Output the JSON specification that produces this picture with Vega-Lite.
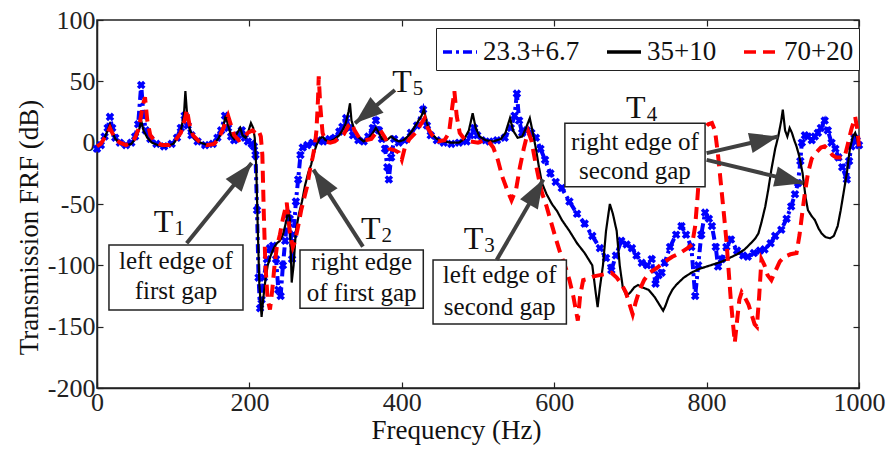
{
  "$schema": "https://vega.github.io/schema/vega-lite/v6.json",
  "width": 762,
  "height": 368,
  "autosize": {"type": "none"},
  "padding": {"left": 97, "top": 20, "right": 28, "bottom": 62},
  "background": "white",
  "config": {
    "view": {"stroke": "#222", "strokeWidth": 1.5},
    "font": "Liberation Serif, Times New Roman, serif",
    "axis": {
      "labelFont": "Liberation Serif, Times New Roman, serif", "titleFont": "Liberation Serif, Times New Roman, serif",
      "labelFontSize": 26, "titleFontSize": 27, "titleFontWeight": "normal",
      "labelColor": "#222", "titleColor": "#111", "tickColor": "#222", "domainColor": "#222",
      "domainWidth": 1.5, "tickWidth": 1.2, "grid": false, "tickSize": -6, "labelPadding": 6, "labelFlush": false
    },
    "legend": {
      "orient": "none", "legendX": 339, "legendY": 8, "direction": "horizontal",
      "strokeColor": "#222", "fillColor": "white", "padding": 5,
      "labelFont": "Liberation Serif, Times New Roman, serif", "labelFontSize": 27, "labelColor": "#111",
      "symbolType": "stroke", "symbolSize": 1156, "symbolStrokeWidth": 3.5,
      "columnPadding": 20, "labelOffset": 4
    }
  },
  "datasets": {
    "curves": [
      {"s":"23.3+6.7","f":0,"v":-5},{"s":"23.3+6.7","f":5,"v":-2},{"s":"23.3+6.7","f":10,"v":5},{"s":"23.3+6.7","f":14,"v":12},{"s":"23.3+6.7","f":17,"v":21},{"s":"23.3+6.7","f":20,"v":12},{"s":"23.3+6.7","f":24,"v":4},{"s":"23.3+6.7","f":30,"v":0},{"s":"23.3+6.7","f":38,"v":-2},{"s":"23.3+6.7","f":45,"v":0},{"s":"23.3+6.7","f":50,"v":5},{"s":"23.3+6.7","f":54,"v":15},{"s":"23.3+6.7","f":58,"v":47},{"s":"23.3+6.7","f":61,"v":22},{"s":"23.3+6.7","f":64,"v":10},{"s":"23.3+6.7","f":70,"v":3},{"s":"23.3+6.7","f":78,"v":-1},{"s":"23.3+6.7","f":88,"v":-3},{"s":"23.3+6.7","f":98,"v":-1},{"s":"23.3+6.7","f":105,"v":4},{"s":"23.3+6.7","f":110,"v":12},{"s":"23.3+6.7","f":115,"v":22},{"s":"23.3+6.7","f":119,"v":14},{"s":"23.3+6.7","f":124,"v":6},{"s":"23.3+6.7","f":132,"v":1},{"s":"23.3+6.7","f":142,"v":-2},{"s":"23.3+6.7","f":152,"v":-1},{"s":"23.3+6.7","f":158,"v":4},{"s":"23.3+6.7","f":163,"v":10},{"s":"23.3+6.7","f":168,"v":22},{"s":"23.3+6.7","f":172,"v":12},{"s":"23.3+6.7","f":176,"v":5},{"s":"23.3+6.7","f":180,"v":2},{"s":"23.3+6.7","f":185,"v":6},{"s":"23.3+6.7","f":190,"v":10},{"s":"23.3+6.7","f":194,"v":4},{"s":"23.3+6.7","f":198,"v":1},{"s":"23.3+6.7","f":203,"v":-1},{"s":"23.3+6.7","f":206,"v":-3},{"s":"23.3+6.7","f":208,"v":-10},{"s":"23.3+6.7","f":210,"v":-55},{"s":"23.3+6.7","f":212,"v":-110},{"s":"23.3+6.7","f":214,"v":-135},{"s":"23.3+6.7","f":216,"v":-128},{"s":"23.3+6.7","f":219,"v":-110},{"s":"23.3+6.7","f":223,"v":-95},{"s":"23.3+6.7","f":227,"v":-86},{"s":"23.3+6.7","f":231,"v":-84},{"s":"23.3+6.7","f":235,"v":-95},{"s":"23.3+6.7","f":238,"v":-120},{"s":"23.3+6.7","f":241,"v":-125},{"s":"23.3+6.7","f":244,"v":-100},{"s":"23.3+6.7","f":247,"v":-80},{"s":"23.3+6.7","f":250,"v":-58},{"s":"23.3+6.7","f":253,"v":-62},{"s":"23.3+6.7","f":256,"v":-95},{"s":"23.3+6.7","f":258,"v":-75},{"s":"23.3+6.7","f":261,"v":-48},{"s":"23.3+6.7","f":264,"v":-30},{"s":"23.3+6.7","f":267,"v":-10},{"s":"23.3+6.7","f":270,"v":-4},{"s":"23.3+6.7","f":276,"v":-2},{"s":"23.3+6.7","f":283,"v":0},{"s":"23.3+6.7","f":290,"v":2},{"s":"23.3+6.7","f":297,"v":1},{"s":"23.3+6.7","f":305,"v":3},{"s":"23.3+6.7","f":312,"v":4},{"s":"23.3+6.7","f":318,"v":9},{"s":"23.3+6.7","f":322,"v":13},{"s":"23.3+6.7","f":327,"v":20},{"s":"23.3+6.7","f":331,"v":12},{"s":"23.3+6.7","f":336,"v":6},{"s":"23.3+6.7","f":343,"v":2},{"s":"23.3+6.7","f":350,"v":1},{"s":"23.3+6.7","f":356,"v":5},{"s":"23.3+6.7","f":362,"v":12},{"s":"23.3+6.7","f":366,"v":18},{"s":"23.3+6.7","f":370,"v":10},{"s":"23.3+6.7","f":374,"v":3},{"s":"23.3+6.7","f":378,"v":-5},{"s":"23.3+6.7","f":381,"v":-20},{"s":"23.3+6.7","f":383,"v":-30},{"s":"23.3+6.7","f":386,"v":-12},{"s":"23.3+6.7","f":390,"v":3},{"s":"23.3+6.7","f":396,"v":0},{"s":"23.3+6.7","f":404,"v":2},{"s":"23.3+6.7","f":412,"v":8},{"s":"23.3+6.7","f":420,"v":14},{"s":"23.3+6.7","f":428,"v":27},{"s":"23.3+6.7","f":433,"v":14},{"s":"23.3+6.7","f":438,"v":6},{"s":"23.3+6.7","f":446,"v":2},{"s":"23.3+6.7","f":455,"v":0},{"s":"23.3+6.7","f":465,"v":-1},{"s":"23.3+6.7","f":475,"v":0},{"s":"23.3+6.7","f":485,"v":1},{"s":"23.3+6.7","f":490,"v":6},{"s":"23.3+6.7","f":495,"v":12},{"s":"23.3+6.7","f":499,"v":6},{"s":"23.3+6.7","f":505,"v":2},{"s":"23.3+6.7","f":515,"v":1},{"s":"23.3+6.7","f":525,"v":2},{"s":"23.3+6.7","f":535,"v":4},{"s":"23.3+6.7","f":543,"v":12},{"s":"23.3+6.7","f":548,"v":22},{"s":"23.3+6.7","f":551,"v":40},{"s":"23.3+6.7","f":554,"v":18},{"s":"23.3+6.7","f":558,"v":8},{"s":"23.3+6.7","f":564,"v":10},{"s":"23.3+6.7","f":570,"v":8},{"s":"23.3+6.7","f":576,"v":4},{"s":"23.3+6.7","f":582,"v":-5},{"s":"23.3+6.7","f":588,"v":-14},{"s":"23.3+6.7","f":595,"v":-25},{"s":"23.3+6.7","f":602,"v":-32},{"s":"23.3+6.7","f":610,"v":-37},{"s":"23.3+6.7","f":620,"v":-48},{"s":"23.3+6.7","f":630,"v":-58},{"s":"23.3+6.7","f":640,"v":-66},{"s":"23.3+6.7","f":650,"v":-76},{"s":"23.3+6.7","f":660,"v":-86},{"s":"23.3+6.7","f":668,"v":-94},{"s":"23.3+6.7","f":675,"v":-104},{"s":"23.3+6.7","f":681,"v":-92},{"s":"23.3+6.7","f":688,"v":-80},{"s":"23.3+6.7","f":695,"v":-83},{"s":"23.3+6.7","f":702,"v":-86},{"s":"23.3+6.7","f":708,"v":-92},{"s":"23.3+6.7","f":715,"v":-98},{"s":"23.3+6.7","f":722,"v":-100},{"s":"23.3+6.7","f":728,"v":-95},{"s":"23.3+6.7","f":733,"v":-115},{"s":"23.3+6.7","f":737,"v":-108},{"s":"23.3+6.7","f":741,"v":-106},{"s":"23.3+6.7","f":745,"v":-98},{"s":"23.3+6.7","f":752,"v":-85},{"s":"23.3+6.7","f":760,"v":-75},{"s":"23.3+6.7","f":767,"v":-68},{"s":"23.3+6.7","f":773,"v":-75},{"s":"23.3+6.7","f":780,"v":-85},{"s":"23.3+6.7","f":785,"v":-125},{"s":"23.3+6.7","f":789,"v":-100},{"s":"23.3+6.7","f":793,"v":-75},{"s":"23.3+6.7","f":798,"v":-57},{"s":"23.3+6.7","f":803,"v":-62},{"s":"23.3+6.7","f":807,"v":-68},{"s":"23.3+6.7","f":812,"v":-85},{"s":"23.3+6.7","f":815,"v":-101},{"s":"23.3+6.7","f":820,"v":-95},{"s":"23.3+6.7","f":826,"v":-85},{"s":"23.3+6.7","f":832,"v":-79},{"s":"23.3+6.7","f":840,"v":-88},{"s":"23.3+6.7","f":848,"v":-92},{"s":"23.3+6.7","f":854,"v":-93},{"s":"23.3+6.7","f":862,"v":-90},{"s":"23.3+6.7","f":870,"v":-88},{"s":"23.3+6.7","f":876,"v":-87},{"s":"23.3+6.7","f":884,"v":-82},{"s":"23.3+6.7","f":890,"v":-76},{"s":"23.3+6.7","f":898,"v":-71},{"s":"23.3+6.7","f":905,"v":-62},{"s":"23.3+6.7","f":911,"v":-52},{"s":"23.3+6.7","f":916,"v":-42},{"s":"23.3+6.7","f":920,"v":-33},{"s":"23.3+6.7","f":923,"v":-15},{"s":"23.3+6.7","f":925,"v":0},{"s":"23.3+6.7","f":929,"v":6},{"s":"23.3+6.7","f":933,"v":5},{"s":"23.3+6.7","f":938,"v":2},{"s":"23.3+6.7","f":942,"v":5},{"s":"23.3+6.7","f":946,"v":8},{"s":"23.3+6.7","f":950,"v":12},{"s":"23.3+6.7","f":955,"v":18},{"s":"23.3+6.7","f":959,"v":10},{"s":"23.3+6.7","f":964,"v":0},{"s":"23.3+6.7","f":969,"v":-5},{"s":"23.3+6.7","f":973,"v":-12},{"s":"23.3+6.7","f":978,"v":-20},{"s":"23.3+6.7","f":984,"v":-30},{"s":"23.3+6.7","f":987,"v":-15},{"s":"23.3+6.7","f":990,"v":-3},{"s":"23.3+6.7","f":994,"v":4},{"s":"23.3+6.7","f":997,"v":2},{"s":"23.3+6.7","f":1000,"v":-2},

      {"s":"35+10","f":0,"v":-3},{"s":"35+10","f":5,"v":-1},{"s":"35+10","f":10,"v":4},{"s":"35+10","f":14,"v":10},{"s":"35+10","f":17,"v":15},{"s":"35+10","f":20,"v":9},{"s":"35+10","f":24,"v":3},{"s":"35+10","f":30,"v":0},{"s":"35+10","f":38,"v":-2},{"s":"35+10","f":45,"v":-1},{"s":"35+10","f":50,"v":3},{"s":"35+10","f":55,"v":10},{"s":"35+10","f":58,"v":18},{"s":"35+10","f":61,"v":10},{"s":"35+10","f":66,"v":4},{"s":"35+10","f":72,"v":0},{"s":"35+10","f":80,"v":-2},{"s":"35+10","f":90,"v":-3},{"s":"35+10","f":100,"v":-1},{"s":"35+10","f":106,"v":4},{"s":"35+10","f":110,"v":10},{"s":"35+10","f":114,"v":22},{"s":"35+10","f":116,"v":42},{"s":"35+10","f":118,"v":25},{"s":"35+10","f":122,"v":10},{"s":"35+10","f":128,"v":3},{"s":"35+10","f":136,"v":0},{"s":"35+10","f":145,"v":-2},{"s":"35+10","f":155,"v":0},{"s":"35+10","f":160,"v":4},{"s":"35+10","f":165,"v":12},{"s":"35+10","f":169,"v":22},{"s":"35+10","f":172,"v":14},{"s":"35+10","f":176,"v":6},{"s":"35+10","f":180,"v":3},{"s":"35+10","f":184,"v":8},{"s":"35+10","f":188,"v":12},{"s":"35+10","f":191,"v":6},{"s":"35+10","f":195,"v":4},{"s":"35+10","f":199,"v":10},{"s":"35+10","f":202,"v":16},{"s":"35+10","f":205,"v":12},{"s":"35+10","f":207,"v":4},{"s":"35+10","f":209,"v":-20},{"s":"35+10","f":211,"v":-70},{"s":"35+10","f":213,"v":-115},{"s":"35+10","f":216,"v":-142},{"s":"35+10","f":218,"v":-128},{"s":"35+10","f":221,"v":-112},{"s":"35+10","f":224,"v":-100},{"s":"35+10","f":228,"v":-92},{"s":"35+10","f":232,"v":-86},{"s":"35+10","f":236,"v":-82},{"s":"35+10","f":240,"v":-80},{"s":"35+10","f":244,"v":-75},{"s":"35+10","f":248,"v":-65},{"s":"35+10","f":251,"v":-55},{"s":"35+10","f":253,"v":-62},{"s":"35+10","f":255.5,"v":-114},{"s":"35+10","f":258,"v":-100},{"s":"35+10","f":261,"v":-72},{"s":"35+10","f":265,"v":-58},{"s":"35+10","f":269,"v":-48},{"s":"35+10","f":273,"v":-35},{"s":"35+10","f":277,"v":-25},{"s":"35+10","f":281,"v":-18},{"s":"35+10","f":284,"v":-10},{"s":"35+10","f":288,"v":-2},{"s":"35+10","f":292,"v":3},{"s":"35+10","f":296,"v":5},{"s":"35+10","f":300,"v":2},{"s":"35+10","f":306,"v":1},{"s":"35+10","f":312,"v":3},{"s":"35+10","f":318,"v":6},{"s":"35+10","f":322,"v":10},{"s":"35+10","f":326,"v":15},{"s":"35+10","f":330,"v":25},{"s":"35+10","f":332,"v":32},{"s":"35+10","f":334,"v":18},{"s":"35+10","f":338,"v":10},{"s":"35+10","f":344,"v":4},{"s":"35+10","f":350,"v":1},{"s":"35+10","f":356,"v":3},{"s":"35+10","f":362,"v":8},{"s":"35+10","f":366,"v":12},{"s":"35+10","f":370,"v":8},{"s":"35+10","f":374,"v":3},{"s":"35+10","f":380,"v":2},{"s":"35+10","f":386,"v":5},{"s":"35+10","f":390,"v":3},{"s":"35+10","f":396,"v":1},{"s":"35+10","f":402,"v":2},{"s":"35+10","f":408,"v":5},{"s":"35+10","f":414,"v":10},{"s":"35+10","f":420,"v":16},{"s":"35+10","f":426,"v":22},{"s":"35+10","f":429,"v":27},{"s":"35+10","f":433,"v":16},{"s":"35+10","f":438,"v":8},{"s":"35+10","f":446,"v":3},{"s":"35+10","f":455,"v":1},{"s":"35+10","f":465,"v":0},{"s":"35+10","f":475,"v":0},{"s":"35+10","f":482,"v":3},{"s":"35+10","f":488,"v":10},{"s":"35+10","f":493,"v":24},{"s":"35+10","f":497,"v":12},{"s":"35+10","f":502,"v":5},{"s":"35+10","f":510,"v":2},{"s":"35+10","f":520,"v":1},{"s":"35+10","f":530,"v":3},{"s":"35+10","f":536,"v":8},{"s":"35+10","f":542,"v":20},{"s":"35+10","f":546,"v":10},{"s":"35+10","f":552,"v":4},{"s":"35+10","f":558,"v":5},{"s":"35+10","f":563,"v":12},{"s":"35+10","f":568,"v":20},{"s":"35+10","f":572,"v":8},{"s":"35+10","f":576,"v":-5},{"s":"35+10","f":580,"v":-20},{"s":"35+10","f":584,"v":-33},{"s":"35+10","f":590,"v":-42},{"s":"35+10","f":597,"v":-50},{"s":"35+10","f":604,"v":-56},{"s":"35+10","f":610,"v":-63},{"s":"35+10","f":620,"v":-72},{"s":"35+10","f":630,"v":-82},{"s":"35+10","f":640,"v":-90},{"s":"35+10","f":646,"v":-96},{"s":"35+10","f":650,"v":-100},{"s":"35+10","f":654,"v":-120},{"s":"35+10","f":657,"v":-134},{"s":"35+10","f":660,"v":-118},{"s":"35+10","f":664,"v":-100},{"s":"35+10","f":668,"v":-72},{"s":"35+10","f":673,"v":-50},{"s":"35+10","f":677,"v":-58},{"s":"35+10","f":682,"v":-72},{"s":"35+10","f":686,"v":-100},{"s":"35+10","f":690,"v":-118},{"s":"35+10","f":695,"v":-125},{"s":"35+10","f":700,"v":-122},{"s":"35+10","f":705,"v":-118},{"s":"35+10","f":710,"v":-116},{"s":"35+10","f":716,"v":-118},{"s":"35+10","f":724,"v":-120},{"s":"35+10","f":732,"v":-126},{"s":"35+10","f":738,"v":-132},{"s":"35+10","f":743,"v":-137},{"s":"35+10","f":746,"v":-133},{"s":"35+10","f":750,"v":-126},{"s":"35+10","f":755,"v":-120},{"s":"35+10","f":760,"v":-116},{"s":"35+10","f":770,"v":-110},{"s":"35+10","f":780,"v":-106},{"s":"35+10","f":790,"v":-103},{"s":"35+10","f":800,"v":-101},{"s":"35+10","f":810,"v":-99},{"s":"35+10","f":820,"v":-97},{"s":"35+10","f":830,"v":-94},{"s":"35+10","f":840,"v":-91},{"s":"35+10","f":850,"v":-87},{"s":"35+10","f":858,"v":-82},{"s":"35+10","f":864,"v":-78},{"s":"35+10","f":868,"v":-74},{"s":"35+10","f":872,"v":-65},{"s":"35+10","f":877,"v":-52},{"s":"35+10","f":881,"v":-38},{"s":"35+10","f":885,"v":-22},{"s":"35+10","f":890,"v":-5},{"s":"35+10","f":894,"v":5},{"s":"35+10","f":898,"v":18},{"s":"35+10","f":900,"v":27},{"s":"35+10","f":903,"v":10},{"s":"35+10","f":906,"v":5},{"s":"35+10","f":909,"v":12},{"s":"35+10","f":912,"v":8},{"s":"35+10","f":915,"v":2},{"s":"35+10","f":918,"v":-3},{"s":"35+10","f":922,"v":-12},{"s":"35+10","f":926,"v":-25},{"s":"35+10","f":930,"v":-45},{"s":"35+10","f":933,"v":-55},{"s":"35+10","f":938,"v":-60},{"s":"35+10","f":942,"v":-63},{"s":"35+10","f":947,"v":-70},{"s":"35+10","f":951,"v":-74},{"s":"35+10","f":956,"v":-77},{"s":"35+10","f":962,"v":-78},{"s":"35+10","f":967,"v":-76},{"s":"35+10","f":972,"v":-68},{"s":"35+10","f":976,"v":-55},{"s":"35+10","f":980,"v":-40},{"s":"35+10","f":984,"v":-25},{"s":"35+10","f":988,"v":-5},{"s":"35+10","f":992,"v":5},{"s":"35+10","f":995,"v":8},{"s":"35+10","f":998,"v":2},{"s":"35+10","f":1000,"v":-3},

      {"s":"70+20","f":0,"v":-3},{"s":"70+20","f":5,"v":-1},{"s":"70+20","f":10,"v":4},{"s":"70+20","f":14,"v":8},{"s":"70+20","f":17,"v":12},{"s":"70+20","f":20,"v":8},{"s":"70+20","f":24,"v":3},{"s":"70+20","f":30,"v":0},{"s":"70+20","f":38,"v":-2},{"s":"70+20","f":45,"v":0},{"s":"70+20","f":50,"v":4},{"s":"70+20","f":55,"v":12},{"s":"70+20","f":60,"v":30},{"s":"70+20","f":63,"v":37},{"s":"70+20","f":66,"v":18},{"s":"70+20","f":70,"v":6},{"s":"70+20","f":76,"v":1},{"s":"70+20","f":85,"v":-2},{"s":"70+20","f":95,"v":-2},{"s":"70+20","f":103,"v":2},{"s":"70+20","f":110,"v":8},{"s":"70+20","f":115,"v":18},{"s":"70+20","f":118,"v":27},{"s":"70+20","f":121,"v":16},{"s":"70+20","f":126,"v":6},{"s":"70+20","f":134,"v":1},{"s":"70+20","f":144,"v":-2},{"s":"70+20","f":154,"v":-1},{"s":"70+20","f":160,"v":4},{"s":"70+20","f":166,"v":12},{"s":"70+20","f":172,"v":22},{"s":"70+20","f":176,"v":14},{"s":"70+20","f":180,"v":6},{"s":"70+20","f":186,"v":2},{"s":"70+20","f":192,"v":4},{"s":"70+20","f":198,"v":8},{"s":"70+20","f":204,"v":10},{"s":"70+20","f":208,"v":8},{"s":"70+20","f":212,"v":10},{"s":"70+20","f":215,"v":5},{"s":"70+20","f":217,"v":-10},{"s":"70+20","f":219,"v":-60},{"s":"70+20","f":221,"v":-100},{"s":"70+20","f":224,"v":-128},{"s":"70+20","f":227,"v":-136},{"s":"70+20","f":230,"v":-120},{"s":"70+20","f":233,"v":-100},{"s":"70+20","f":236,"v":-85},{"s":"70+20","f":240,"v":-75},{"s":"70+20","f":244,"v":-62},{"s":"70+20","f":249,"v":-49},{"s":"70+20","f":253,"v":-73},{"s":"70+20","f":257,"v":-85},{"s":"70+20","f":260,"v":-80},{"s":"70+20","f":264,"v":-68},{"s":"70+20","f":268,"v":-55},{"s":"70+20","f":272,"v":-45},{"s":"70+20","f":276,"v":-35},{"s":"70+20","f":280,"v":-20},{"s":"70+20","f":283,"v":-12},{"s":"70+20","f":286,"v":-2},{"s":"70+20","f":288,"v":10},{"s":"70+20","f":290,"v":35},{"s":"70+20","f":291,"v":54},{"s":"70+20","f":293,"v":30},{"s":"70+20","f":296,"v":8},{"s":"70+20","f":300,"v":1},{"s":"70+20","f":306,"v":0},{"s":"70+20","f":312,"v":1},{"s":"70+20","f":318,"v":4},{"s":"70+20","f":324,"v":7},{"s":"70+20","f":330,"v":14},{"s":"70+20","f":334,"v":16},{"s":"70+20","f":338,"v":10},{"s":"70+20","f":344,"v":4},{"s":"70+20","f":352,"v":2},{"s":"70+20","f":360,"v":3},{"s":"70+20","f":366,"v":8},{"s":"70+20","f":372,"v":10},{"s":"70+20","f":378,"v":4},{"s":"70+20","f":384,"v":-5},{"s":"70+20","f":390,"v":-6},{"s":"70+20","f":396,"v":-8},{"s":"70+20","f":400,"v":-14},{"s":"70+20","f":404,"v":-4},{"s":"70+20","f":410,"v":3},{"s":"70+20","f":418,"v":8},{"s":"70+20","f":424,"v":14},{"s":"70+20","f":430,"v":20},{"s":"70+20","f":434,"v":12},{"s":"70+20","f":440,"v":6},{"s":"70+20","f":448,"v":1},{"s":"70+20","f":456,"v":2},{"s":"70+20","f":462,"v":8},{"s":"70+20","f":466,"v":28},{"s":"70+20","f":469,"v":42},{"s":"70+20","f":472,"v":22},{"s":"70+20","f":476,"v":8},{"s":"70+20","f":482,"v":3},{"s":"70+20","f":490,"v":1},{"s":"70+20","f":500,"v":0},{"s":"70+20","f":508,"v":2},{"s":"70+20","f":514,"v":1},{"s":"70+20","f":520,"v":-4},{"s":"70+20","f":526,"v":-14},{"s":"70+20","f":532,"v":-28},{"s":"70+20","f":538,"v":-38},{"s":"70+20","f":544,"v":-47},{"s":"70+20","f":550,"v":-38},{"s":"70+20","f":555,"v":-20},{"s":"70+20","f":560,"v":-5},{"s":"70+20","f":564,"v":5},{"s":"70+20","f":566,"v":9},{"s":"70+20","f":570,"v":2},{"s":"70+20","f":575,"v":-15},{"s":"70+20","f":580,"v":-30},{"s":"70+20","f":584,"v":-41},{"s":"70+20","f":590,"v":-52},{"s":"70+20","f":596,"v":-65},{"s":"70+20","f":602,"v":-78},{"s":"70+20","f":608,"v":-90},{"s":"70+20","f":614,"v":-100},{"s":"70+20","f":620,"v":-112},{"s":"70+20","f":625,"v":-125},{"s":"70+20","f":628,"v":-135},{"s":"70+20","f":631,"v":-145},{"s":"70+20","f":634,"v":-125},{"s":"70+20","f":638,"v":-112},{"s":"70+20","f":645,"v":-111},{"s":"70+20","f":652,"v":-109},{"s":"70+20","f":660,"v":-108},{"s":"70+20","f":668,"v":-107},{"s":"70+20","f":675,"v":-106},{"s":"70+20","f":682,"v":-110},{"s":"70+20","f":688,"v":-115},{"s":"70+20","f":694,"v":-122},{"s":"70+20","f":699,"v":-132},{"s":"70+20","f":703,"v":-140},{"s":"70+20","f":707,"v":-130},{"s":"70+20","f":712,"v":-120},{"s":"70+20","f":718,"v":-112},{"s":"70+20","f":725,"v":-106},{"s":"70+20","f":735,"v":-102},{"s":"70+20","f":745,"v":-97},{"s":"70+20","f":755,"v":-93},{"s":"70+20","f":765,"v":-90},{"s":"70+20","f":775,"v":-86},{"s":"70+20","f":781,"v":-83},{"s":"70+20","f":785,"v":-68},{"s":"70+20","f":788,"v":-45},{"s":"70+20","f":791,"v":-20},{"s":"70+20","f":794,"v":5},{"s":"70+20","f":797,"v":12},{"s":"70+20","f":802,"v":15},{"s":"70+20","f":807,"v":16},{"s":"70+20","f":811,"v":10},{"s":"70+20","f":815,"v":-10},{"s":"70+20","f":819,"v":-35},{"s":"70+20","f":823,"v":-60},{"s":"70+20","f":826,"v":-80},{"s":"70+20","f":829,"v":-105},{"s":"70+20","f":832,"v":-130},{"s":"70+20","f":835,"v":-150},{"s":"70+20","f":837,"v":-163},{"s":"70+20","f":840,"v":-145},{"s":"70+20","f":843,"v":-128},{"s":"70+20","f":846,"v":-122},{"s":"70+20","f":850,"v":-126},{"s":"70+20","f":855,"v":-132},{"s":"70+20","f":859,"v":-140},{"s":"70+20","f":863,"v":-148},{"s":"70+20","f":866,"v":-150},{"s":"70+20","f":869,"v":-125},{"s":"70+20","f":872,"v":-95},{"s":"70+20","f":876,"v":-100},{"s":"70+20","f":880,"v":-108},{"s":"70+20","f":885,"v":-112},{"s":"70+20","f":890,"v":-105},{"s":"70+20","f":896,"v":-97},{"s":"70+20","f":902,"v":-93},{"s":"70+20","f":910,"v":-91},{"s":"70+20","f":918,"v":-90},{"s":"70+20","f":922,"v":-75},{"s":"70+20","f":926,"v":-55},{"s":"70+20","f":929,"v":-41},{"s":"70+20","f":933,"v":-25},{"s":"70+20","f":938,"v":-13},{"s":"70+20","f":944,"v":-8},{"s":"70+20","f":950,"v":-4},{"s":"70+20","f":955,"v":-3},{"s":"70+20","f":960,"v":-6},{"s":"70+20","f":965,"v":-10},{"s":"70+20","f":970,"v":-12},{"s":"70+20","f":976,"v":-12},{"s":"70+20","f":981,"v":-12},{"s":"70+20","f":985,"v":-2},{"s":"70+20","f":990,"v":11},{"s":"70+20","f":995,"v":21},{"s":"70+20","f":998,"v":10},{"s":"70+20","f":1000,"v":-3}
    ],
    "boxes": [
      {"x1": 15.7, "x2": 191.6, "y1": -83.4, "y2": -136.4},
      {"x1": 266.4, "x2": 428.2, "y1": -87.5, "y2": -135},
      {"x1": 441, "x2": 616, "y1": -95.6, "y2": -147.8},
      {"x1": 614, "x2": 798, "y1": 15.8, "y2": -35.9}
    ],
    "boxtext": [
      {"x": 103.6, "y": -96.4, "t": "left edge of"},
      {"x": 103.6, "y": -120.9, "t": "first gap"},
      {"x": 347.3, "y": -97, "t": "right edge"},
      {"x": 347.3, "y": -122.5, "t": "of first gap"},
      {"x": 528.5, "y": -107.8, "t": "left edge of"},
      {"x": 528.5, "y": -134, "t": "second gap"},
      {"x": 706, "y": 0.6, "t": "right edge of"},
      {"x": 706, "y": -23, "t": "second gap"}
    ],
    "tlabels": [
      {"x": 100, "y": -65, "t": "T", "n": "1"},
      {"x": 372, "y": -70.5, "t": "T", "n": "2"},
      {"x": 507, "y": -78.5, "t": "T", "n": "3"},
      {"x": 720, "y": 28.5, "t": "T", "n": "4"},
      {"x": 413, "y": 49.5, "t": "T", "n": "5"}
    ],
    "arrows": [
      {"x": 117.7, "y": -82, "x2": 203, "y2": -16.6, "a": 39},
      {"x": 349, "y": -84.8, "x2": 284, "y2": -22, "a": -33},
      {"x": 391, "y": 43, "x2": 338.6, "y2": 15.8, "a": -130},
      {"x": 524.5, "y": -95.6, "x2": 585.7, "y2": -30, "a": 30},
      {"x": 800, "y": -8.5, "x2": 894, "y2": 5, "a": 77},
      {"x": 800, "y": -14, "x2": 927, "y2": -33, "a": 103.5}
    ]
  },
  "layer": [
    {
      "data": {"name": "curves"},
      "transform": [{"filter": "datum.s == '23.3+6.7'"}],
      "mark": {"type": "point", "shape": "cross", "angle": 45, "filled": true, "size": 75, "color": "#0000ff", "opacity": 1},
      "encoding": {
        "x": {"field": "f", "type": "quantitative", "scale": {"domain": [0, 1000], "nice": false},
              "axis": {"orient": "top", "labels": false, "title": null, "values": [0,200,400,600,800,1000], "domain": false}},
        "y": {"field": "v", "type": "quantitative", "scale": {"domain": [-200, 100], "nice": false},
              "axis": {"orient": "right", "labels": false, "title": null, "values": [-200,-150,-100,-50,0,50,100], "domain": false}}
      }
    },
    {
      "data": {"name": "curves"},
      "transform": [{"filter": "datum.s == '23.3+6.7'"}],
      "mark": {"type": "line", "strokeWidth": 4},
      "encoding": {
        "x": {"field": "f", "type": "quantitative", "scale": {"domain": [0, 1000], "nice": false},
              "axis": {"title": "Frequency (Hz)", "values": [0,200,400,600,800,1000], "labelExpr": "datum.value + ''", "titleX": 359, "titlePadding": 2, "labelPadding": 7}},
        "y": {"field": "v", "type": "quantitative", "scale": {"domain": [-200, 100], "nice": false},
              "axis": {"title": "Transmission FRF (dB)", "values": [-200,-150,-100,-50,0,50,100], "labelExpr": "datum.value + ''", "titlePadding": 4, "titleY": 207, "labelPadding": 8}},
        "color": {"field": "s", "type": "nominal",
                  "scale": {"domain": ["23.3+6.7", "35+10", "70+20"], "range": ["#0000ff", "#000000", "#ff0000"]},
                  "legend": {"title": null}},
        "strokeDash": {"field": "s", "type": "nominal",
                  "scale": {"domain": ["23.3+6.7", "35+10", "70+20"], "range": [[9, 4, 3, 4], [1, 0], [12, 7]]},
                  "legend": {"title": null}}
      }
    },
    {
      "data": {"name": "curves"},
      "transform": [{"filter": "datum.s == '35+10'"}],
      "mark": {"type": "line", "strokeWidth": 2.2},
      "encoding": {
        "x": {"field": "f", "type": "quantitative", "axis": null},
        "y": {"field": "v", "type": "quantitative", "axis": null},
        "color": {"field": "s", "type": "nominal", "legend": {"title": null}},
        "strokeDash": {"field": "s", "type": "nominal", "legend": {"title": null}}
      }
    },
    {
      "data": {"name": "curves"},
      "transform": [{"filter": "datum.s == '70+20'"}],
      "mark": {"type": "line", "strokeWidth": 4},
      "encoding": {
        "x": {"field": "f", "type": "quantitative", "axis": null},
        "y": {"field": "v", "type": "quantitative", "axis": null},
        "color": {"field": "s", "type": "nominal", "legend": {"title": null}},
        "strokeDash": {"field": "s", "type": "nominal", "legend": {"title": null}}
      }
    },
    {
      "data": {"name": "boxes"},
      "mark": {"type": "rect", "fill": "white", "stroke": "#222", "strokeWidth": 1.5},
      "encoding": {
        "x": {"field": "x1", "type": "quantitative", "axis": null},
        "x2": {"field": "x2"},
        "y": {"field": "y1", "type": "quantitative", "axis": null},
        "y2": {"field": "y2"}
      }
    },
    {
      "data": {"name": "boxtext"},
      "mark": {"type": "text", "font": "Liberation Serif, Times New Roman, serif", "fontSize": 25, "color": "#111", "align": "center", "baseline": "middle"},
      "encoding": {
        "x": {"field": "x", "type": "quantitative", "axis": null},
        "y": {"field": "y", "type": "quantitative", "axis": null},
        "text": {"field": "t"}
      }
    },
    {
      "data": {"name": "tlabels"},
      "mark": {"type": "text", "font": "Liberation Serif, Times New Roman, serif", "fontSize": 32, "color": "#111", "align": "right", "baseline": "middle"},
      "encoding": {
        "x": {"field": "x", "type": "quantitative", "axis": null},
        "y": {"field": "y", "type": "quantitative", "axis": null},
        "text": {"field": "t"}
      }
    },
    {
      "data": {"name": "tlabels"},
      "mark": {"type": "text", "font": "Liberation Serif, Times New Roman, serif", "fontSize": 21, "color": "#111", "align": "left", "baseline": "middle", "dx": 1, "dy": 7},
      "encoding": {
        "x": {"field": "x", "type": "quantitative", "axis": null},
        "y": {"field": "y", "type": "quantitative", "axis": null},
        "text": {"field": "n"}
      }
    },
    {
      "data": {"name": "arrows"},
      "mark": {"type": "rule", "color": "#404040", "strokeWidth": 4},
      "encoding": {
        "x": {"field": "x", "type": "quantitative", "axis": null},
        "y": {"field": "y", "type": "quantitative", "axis": null},
        "x2": {"field": "x2"},
        "y2": {"field": "y2"}
      }
    },
    {
      "data": {"name": "arrows"},
      "mark": {"type": "point", "shape": "M0,0L1,2.8L-1,2.8Z", "filled": true, "size": 420, "color": "#404040", "opacity": 1},
      "encoding": {
        "x": {"field": "x2", "type": "quantitative", "axis": null},
        "y": {"field": "y2", "type": "quantitative", "axis": null},
        "angle": {"field": "a", "type": "quantitative", "scale": null}
      }
    }
  ],
  "resolve": {"axis": {"x": "independent", "y": "independent"}}
}
